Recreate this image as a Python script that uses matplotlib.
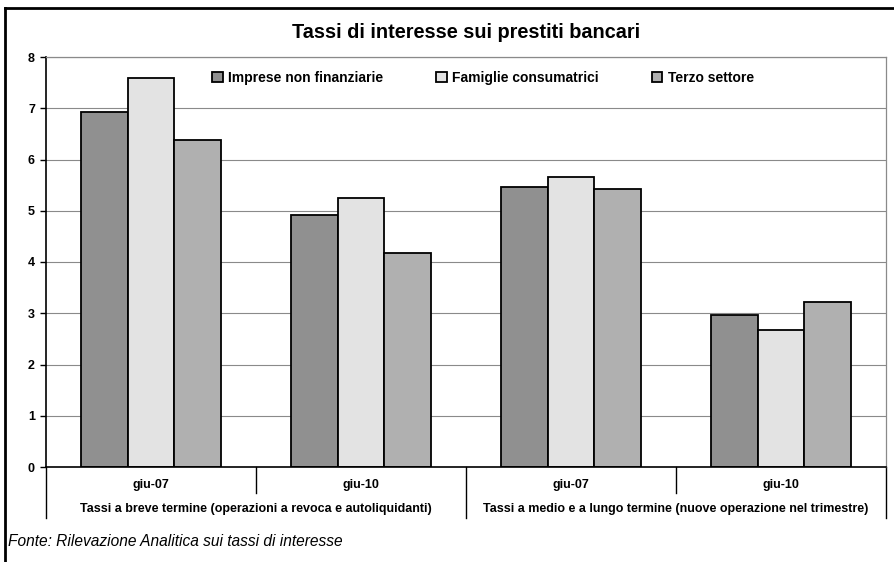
import matplotlib.pyplot as plt
import matplotlib.transforms as mtransforms
from matplotlib.lines import Line2D

plt.rcParams['font.family'] = ['Liberation Sans', 'DejaVu Sans']

# tassi medi (%) per categoria di clientela
periodi = ['giu-07', 'giu-10', 'giu-07', 'giu-10']
gruppi = ['Tassi a breve termine (operazioni a revoca e autoliquidanti)',
          'Tassi a medio e a lungo termine (nuove operazione nel trimestre)']
imprese = [6.92, 4.91, 5.47, 2.97]
famiglie = [7.60, 5.24, 5.65, 2.68]
terzo_settore = [6.39, 4.18, 5.43, 3.21]
serie = ['Imprese non finanziarie', 'Famiglie consumatrici', 'Terzo settore']
colori = ['#909090', '#e3e3e3', '#b0b0b0']

W, H = 894, 562
fig = plt.figure(figsize=(W / 100, H / 100), dpi=100)
ax = fig.add_axes([46 / W, 1 - 467 / H, 840 / W, 410 / H])

x = list(range(len(periodi)))
bw = 0.222
for k, (vals, nome, col) in enumerate(zip([imprese, famiglie, terzo_settore], serie, colori)):
    ax.bar([i + (k - 1) * bw for i in x], vals, width=bw, color=col,
           edgecolor='black', linewidth=1.3, label=nome, zorder=3)

ax.set_xlim(-0.5, len(periodi) - 0.5)
ax.set_ylim(0, 8)
ax.set_yticks(range(0, 9))
ax.yaxis.grid(True, color='#8a8a8a', linewidth=0.8, zorder=0)
ax.tick_params(axis='y', direction='out', length=4, width=1, labelsize=9, pad=4)
for t in ax.get_yticklabels():
    t.set_fontweight('bold')
ax.set_xticks([])
for s in ['top', 'right']:
    ax.spines[s].set_color('#8a8a8a')
    ax.spines[s].set_linewidth(0.9)
ax.spines['left'].set_linewidth(1.2)
ax.spines['bottom'].set_linewidth(1.2)
ax.spines['bottom'].set_zorder(4)

# asse delle categorie su due livelli
trans = mtransforms.blended_transform_factory(ax.transData, ax.transAxes)
for b in [0.5, 2.5]:
    ax.add_line(Line2D([b, b], [0, -26 / 410], transform=trans, color='black',
                       linewidth=1, clip_on=False))
for b in [-0.5, 1.5, 3.5]:
    ax.add_line(Line2D([b, b], [0, -51 / 410], transform=trans, color='black',
                       linewidth=1, clip_on=False))
for i, p in zip(x, periodi):
    ax.text(i, -18 / 410, p, transform=trans, ha='center', va='center',
            fontsize=9, fontweight='bold')
for j, g in enumerate(gruppi):
    ax.text(2 * j + 0.5, -42 / 410, g, transform=trans, ha='center', va='center',
            fontsize=9, fontweight='bold')

ax.legend(loc='center', bbox_to_anchor=(483 / W, 1 - 78 / H), bbox_transform=fig.transFigure,
          ncol=3, frameon=False, handlelength=0.75, handleheight=0.75,
          handletextpad=0.4, columnspacing=3.8, prop={'weight': 'bold', 'size': 10})

fig.text(466 / W, 1 - 32 / H, 'Tassi di interesse sui prestiti bancari', ha='center',
         va='center', fontsize=14.3, fontweight='bold')
fig.text(8 / W, 1 - 541 / H, 'Fonte: Rilevazione Analitica sui tassi di interesse',
         ha='left', va='center', fontsize=11.2, style='italic')

# cornice esterna
fig.add_artist(Line2D([5 / W, 5 / W], [0, 1 - 8 / H], color='black', linewidth=2))
fig.add_artist(Line2D([5 / W, 1], [1 - 8 / H, 1 - 8 / H], color='black', linewidth=2))

fig.savefig('out.png', dpi=100)
